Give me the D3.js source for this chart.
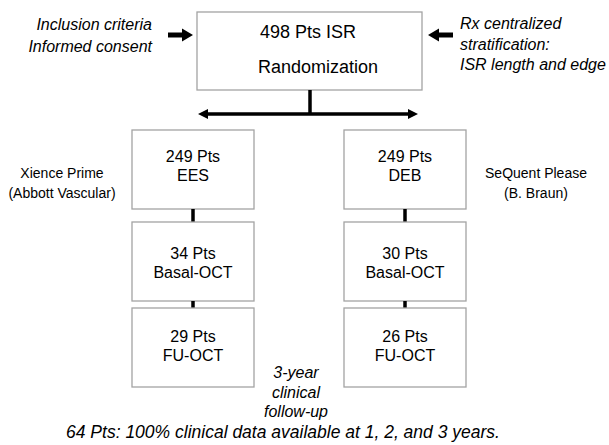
<!DOCTYPE html>
<html>
<head>
<meta charset="utf-8">
<script src="https://cdn.jsdelivr.net/npm/d3@7"></script>
<style>
  body { margin: 0; background: #fff; }
  svg { display: block; font-family: "Liberation Sans", Arial, Helvetica, sans-serif; }
</style>
</head>
<body>
<div id="chart"></div>
<script>
// Flow data
const totalPts = 498;
const topLines = [`${totalPts} Pts ISR`, 'Randomization'];
const armNames = ['EES', 'DEB'];
const armDevices = [['Xience Prime', '(Abbott Vascular)'], ['SeQuent Please', '(B. Braun)']];
const stageNames = ['Arm', 'Basal-OCT', 'FU-OCT'];
const armCounts = [[249, 34, 29], [249, 30, 26]];
const leftNotes = ['Inclusion criteria', 'Informed consent'];
const rightNotes = ['Rx centralized', 'stratification:', 'ISR length and edge'];
const followUpNotes = ['3-year', 'clinical', 'follow-up'];
const footnote = '64 Pts: 100% clinical data available at 1, 2, and 3 years.';

// =============================================================================
// Visual config
// =============================================================================
const W = 609, H = 445;
const BOX_STROKE = '#a3a3a3';
const BOX_W = 122, BOX_H = 79;
const LINE_GAP = 19;

const svg = d3.select('#chart').append('svg')
    .attr('width', W)
    .attr('height', H);

// arm columns and stage rows
const x = d3.scalePoint().domain(armNames).range([193, 405]);
const y = d3.scaleOrdinal().domain(stageNames).range([130, 222, 308]);
const textOffset = d3.scaleOrdinal().domain(stageNames).range([32, 37, 34]);

function drawArrow(x1, yy, x2, shaft, headLen, headH) {
    const dir = Math.sign(x2 - x1);
    const baseX = x2 - dir * headLen;
    svg.append('line')
        .attr('x1', x1).attr('y1', yy)
        .attr('x2', baseX).attr('y2', yy)
        .attr('stroke', '#000')
        .attr('stroke-width', shaft);
    svg.append('path')
        .attr('d', `M${x2},${yy} L${baseX},${yy - headH / 2} L${baseX},${yy + headH / 2} Z`)
        .attr('fill', '#000');
}

// Top randomization box
svg.append('rect')
    .attr('x', 197).attr('y', 12)
    .attr('width', 225).attr('height', 78)
    .attr('fill', '#fff')
    .attr('stroke', BOX_STROKE)
    .attr('stroke-width', 1.3);

svg.append('text')
    .attr('x', 308).attr('y', 38)
    .attr('text-anchor', 'middle')
    .attr('font-size', 18)
    .text(topLines[0]);
svg.append('text')
    .attr('x', 318).attr('y', 73)
    .attr('text-anchor', 'middle')
    .attr('font-size', 18)
    .text(topLines[1]);

// side arrows into the top box
drawArrow(168, 35, 193, 5, 11, 13);
drawArrow(453, 35, 428, 5, 11, 13);

svg.append('g')
    .selectAll('text')
    .data(leftNotes)
    .join('text')
    .attr('x', 152)
    .attr('y', (d, i) => 30 + i * 22)
    .attr('text-anchor', 'end')
    .attr('font-size', 16)
    .attr('font-style', 'italic')
    .text(d => d);

svg.append('g')
    .selectAll('text')
    .data(rightNotes)
    .join('text')
    .attr('x', 460)
    .attr('y', (d, i) => 29 + i * 20.5)
    .attr('font-size', 16)
    .attr('font-style', 'italic')
    .text(d => d);

// split arrow
svg.append('line')
    .attr('x1', 310).attr('y1', 90)
    .attr('x2', 310).attr('y2', 114)
    .attr('stroke', '#000')
    .attr('stroke-width', 3.5);
drawArrow(310, 114, 198, 3.5, 10, 10);
drawArrow(310, 114, 418, 3.5, 10, 10);

// arm boxes
armNames.forEach((arm, ai) => {
    const cx = x(arm);

    stageNames.forEach((stage, si) => {
        const top = y(stage);
        svg.append('rect')
            .attr('x', cx - BOX_W / 2).attr('y', top)
            .attr('width', BOX_W).attr('height', BOX_H)
            .attr('fill', '#fff')
            .attr('stroke', BOX_STROKE)
            .attr('stroke-width', 1.3);

        const lines = [`${armCounts[ai][si]} Pts`, si === 0 ? arm : stage];
        svg.append('g')
            .selectAll('text')
            .data(lines)
            .join('text')
            .attr('x', cx)
            .attr('y', (d, i) => top + textOffset(stage) + i * LINE_GAP)
            .attr('text-anchor', 'middle')
            .attr('font-size', 16)
            .text(d => d);

        // connector to next stage
        if (si < stageNames.length - 1) {
            svg.append('line')
                .attr('x1', cx).attr('y1', top + BOX_H)
                .attr('x2', cx).attr('y2', y(stageNames[si + 1]))
                .attr('stroke', '#000')
                .attr('stroke-width', 3.5);
        }
    });

    // device labels
    const labelX = ai === 0 ? 62 : 536;
    svg.append('g')
        .selectAll('text')
        .data(armDevices[ai])
        .join('text')
        .attr('x', labelX)
        .attr('y', (d, i) => 178 + i * 20)
        .attr('text-anchor', 'middle')
        .attr('font-size', 14)
        .text(d => d);
});

// follow-up note
svg.append('g')
    .selectAll('text')
    .data(followUpNotes)
    .join('text')
    .attr('x', 296)
    .attr('y', (d, i) => 378 + i * 19.5)
    .attr('text-anchor', 'middle')
    .attr('font-size', 16)
    .attr('font-style', 'italic')
    .text(d => d);

svg.append('text')
    .attr('x', 283)
    .attr('y', 438)
    .attr('text-anchor', 'middle')
    .attr('font-size', 17.5)
    .attr('font-style', 'italic')
    .text(footnote);
</script>
</body>
</html>
